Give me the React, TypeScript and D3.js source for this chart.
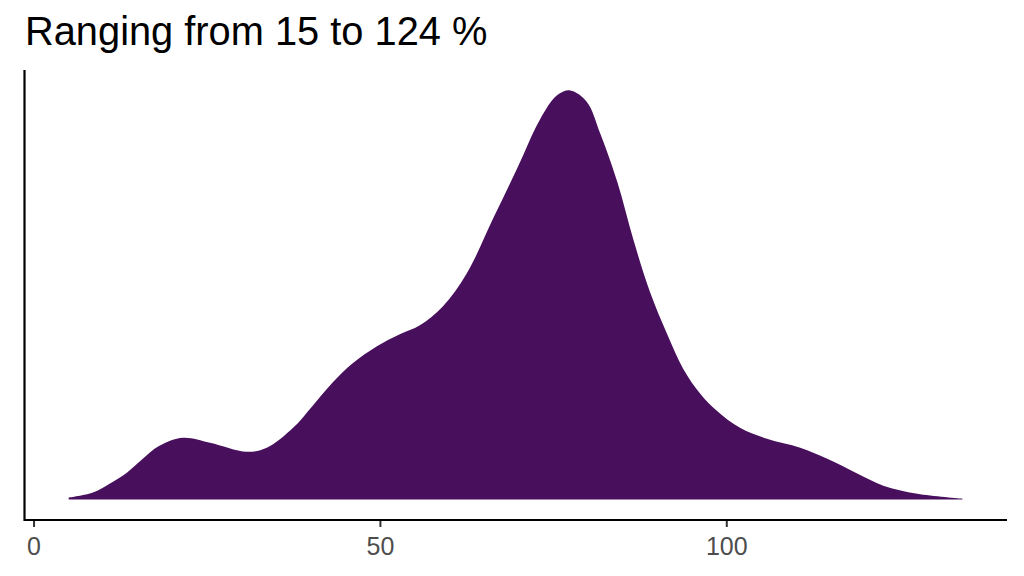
import React, { useEffect, useRef } from "react";
import * as d3 from "d3";

const WIDTH = 1024;
const HEIGHT = 576;

const TITLE = "Ranging from 15 to 124 %";

// density estimate (x in %, y in density units)
const densX = [
  5.0, 8.5, 10.9, 13.4, 15.7, 18.1, 21.5, 25.4, 30.7, 33.6, 37.4, 40.2, 43.1,
  46.0, 49.5, 52.8, 55.7, 59.0, 62.5, 66.3, 69.7, 73.0, 75.5, 77.4, 79.8, 81.7,
  84.2, 86.5, 88.9, 91.4, 93.7, 96.2, 98.6, 101.9, 105.8, 110.6, 114.5, 118.9,
  122.6, 127.5, 134.0,
];
const densY = [
  0.00012, 0.00043, 0.00097, 0.00164, 0.00249, 0.00328, 0.00377, 0.00347,
  0.00292, 0.00316, 0.00438, 0.00572, 0.00715, 0.00833, 0.00937, 0.0101,
  0.01065, 0.0118, 0.01385, 0.0172, 0.0202, 0.0232, 0.0247, 0.025, 0.0243,
  0.0224, 0.0194, 0.0159, 0.0127, 0.0101, 0.008, 0.00645, 0.00541, 0.00438,
  0.00371, 0.00316, 0.00249, 0.00158, 0.00085, 0.00036, 0.00006,
];
const xTicks = [0, 50, 100];

const FILL = "#480F5C";

const margin = { top: 70, right: 17, bottom: 56, left: 24 };

const App = () => {
  const svgRef = useRef<SVGSVGElement>(null);

  useEffect(() => {
    document.body.style.margin = "0";
    const svg = d3.select(svgRef.current);
    svg.selectAll("*").remove();

    const x0 = margin.left;
    const x1 = WIDTH - margin.right;
    const y0 = HEIGHT - margin.bottom;
    const y1 = margin.top;

    // ggplot-style 5% expansion on both axes
    const [xmin, xmax] = d3.extent(densX) as [number, number];
    const xpad = (xmax - xmin) * 0.05;
    const x = d3.scaleLinear().domain([xmin - xpad, xmax + xpad]).range([x0, x1]);

    const ymax = d3.max(densY) as number;
    const y = d3
      .scaleLinear()
      .domain([-ymax * 0.05, ymax * 1.05])
      .range([y0, y1]);

    const pts = densX.map((d, i) => [d, densY[i]] as [number, number]);

    const area = d3
      .area<[number, number]>()
      .x(d => x(d[0]))
      .y0(y(0))
      .y1(d => y(d[1]))
      .curve(d3.curveCatmullRom.alpha(0.5));

    svg
      .append("path")
      .datum(pts)
      .attr("fill", FILL)
      .attr("d", area);

    // title
    svg
      .append("text")
      .attr("x", 25)
      .attr("y", 45)
      .attr("font-family", "'Liberation Sans', Arial, sans-serif")
      .attr("font-size", 39.8)
      .attr("fill", "#000")
      .text(TITLE);

    // x axis
    const gx = svg.append("g");
    gx.selectAll(".tick")
      .data(xTicks)
      .enter()
      .append("line")
      .attr("x1", d => x(d))
      .attr("x2", d => x(d))
      .attr("y1", y0)
      .attr("y2", y0 + 7)
      .attr("stroke", "#333333")
      .attr("stroke-width", 2);
    gx.selectAll(".lab")
      .data(xTicks)
      .enter()
      .append("text")
      .attr("x", d => x(d))
      .attr("y", y0 + 34.5)
      .attr("text-anchor", "middle")
      .attr("font-family", "'Liberation Sans', Arial, sans-serif")
      .attr("font-size", 25)
      .attr("fill", "#4D4D4D")
      .text(d => d);

    svg
      .append("line")
      .attr("x1", x0)
      .attr("x2", x1)
      .attr("y1", y0)
      .attr("y2", y0)
      .attr("stroke", "#000")
      .attr("stroke-width", 2.2);

    // y axis (no ticks or labels)
    svg
      .append("line")
      .attr("x1", x0 + 0.5)
      .attr("x2", x0 + 0.5)
      .attr("y1", y1)
      .attr("y2", y0 + 1)
      .attr("stroke", "#000")
      .attr("stroke-width", 2.2);
  }, []);

  return (
    <svg
      ref={svgRef}
      width={WIDTH}
      height={HEIGHT}
      style={{ display: "block", background: "#fff" }}
    />
  );
};

export default App;
